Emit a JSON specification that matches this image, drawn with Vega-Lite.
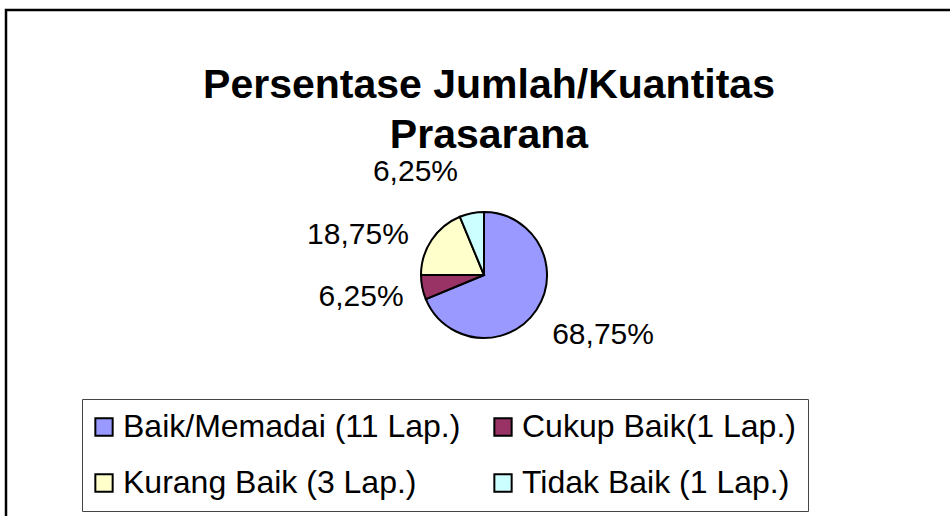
{
  "$schema": "https://vega.github.io/schema/vega-lite/v6.json",
  "autosize": "none",
  "width": 956,
  "height": 530,
  "padding": {"left": 6, "top": 10, "right": 0, "bottom": 0},
  "background": "white",
  "view": {"stroke": "black", "strokeWidth": 2.5},
  "config": {
    "font": "Liberation Sans"
  },
  "title": {
    "text": ["Persentase Jumlah/Kuantitas", "Prasarana"],
    "font": "Liberation Sans",
    "fontSize": 41,
    "fontWeight": "bold",
    "color": "black",
    "anchor": "middle",
    "lineHeight": 50,
    "offset": -147,
    "dx": 5
  },
  "data": {
    "values": [
      {"kategori": "Baik/Memadai (11 Lap.)", "jumlah": 11, "persen": "68,75%"},
      {"kategori": "Cukup Baik(1 Lap.)", "jumlah": 1, "persen": "6,25%"},
      {"kategori": "Kurang Baik (3 Lap.)", "jumlah": 3, "persen": "18,75%"},
      {"kategori": "Tidak Baik (1 Lap.)", "jumlah": 1, "persen": "6,25%"}
    ]
  },
  "resolve": {"scale": {"color": "independent"}},
  "layer": [
    {
      "mark": {"type": "arc", "outerRadius": 63, "stroke": "black", "strokeWidth": 2},
      "encoding": {
        "theta": {"field": "jumlah", "type": "quantitative", "stack": true},
        "color": {
          "field": "kategori",
          "type": "nominal",
          "scale": {
            "domain": ["Baik/Memadai (11 Lap.)", "Cukup Baik(1 Lap.)", "Kurang Baik (3 Lap.)", "Tidak Baik (1 Lap.)"],
            "range": ["#9999FF", "#993366", "#FFFFCC", "#CCFFFF"]
          },
          "legend": {
            "title": null,
            "orient": "none",
            "legendX": 76,
            "legendY": 389,
            "direction": "horizontal",
            "columns": 2,
            "gridAlign": "each",
            "symbolType": "square",
            "symbolSize": 300,
            "symbolStrokeColor": "black",
            "symbolStrokeWidth": 2,
            "symbolOpacity": 1,
            "symbolOffset": -6,
            "labelFont": "Liberation Sans",
            "labelFontSize": 32,
            "labelColor": "black",
            "labelLimit": 800,
            "labelOffset": 3,
            "labelExpr": "indexof(datum.label, 'Cukup') == 0 ? datum.label + '\u00a0\u00a0\u00a0\u00a0\u00a0\u00a0\u00a0\u00a0' : datum.label",
            "columnPadding": 29,
            "rowPadding": 24,
            "padding": 12,
            "strokeColor": "#444444"
          }
        }
      }
    },
    {
      "mark": {"type": "text", "radius": 82, "font": "Liberation Sans", "fontSize": 30, "align": "left", "baseline": "middle", "dx": 0, "dy": 14},
      "encoding": {
        "theta": {"field": "jumlah", "type": "quantitative", "stack": true},
        "color": {"field": "kategori", "type": "nominal", "scale": {"range": ["black"]}, "legend": null},
        "text": {"condition": {"test": "datum.kategori == 'Baik/Memadai (11 Lap.)'", "field": "persen"}, "value": ""}
      }
    },
    {
      "mark": {"type": "text", "radius": 82, "font": "Liberation Sans", "fontSize": 30, "align": "right", "baseline": "middle", "dx": 0, "dy": 6},
      "encoding": {
        "theta": {"field": "jumlah", "type": "quantitative", "stack": true},
        "color": {"field": "kategori", "type": "nominal", "scale": {"range": ["black"]}, "legend": null},
        "text": {"condition": {"test": "datum.kategori == 'Cukup Baik(1 Lap.)'", "field": "persen"}, "value": ""}
      }
    },
    {
      "mark": {"type": "text", "radius": 82, "font": "Liberation Sans", "fontSize": 30, "align": "right", "baseline": "middle", "dx": -7, "dy": 6},
      "encoding": {
        "theta": {"field": "jumlah", "type": "quantitative", "stack": true},
        "color": {"field": "kategori", "type": "nominal", "scale": {"range": ["black"]}, "legend": null},
        "text": {"condition": {"test": "datum.kategori == 'Kurang Baik (3 Lap.)'", "field": "persen"}, "value": ""}
      }
    },
    {
      "mark": {"type": "text", "radius": 82, "font": "Liberation Sans", "fontSize": 30, "align": "right", "baseline": "middle", "dx": -10, "dy": -23},
      "encoding": {
        "theta": {"field": "jumlah", "type": "quantitative", "stack": true},
        "color": {"field": "kategori", "type": "nominal", "scale": {"range": ["black"]}, "legend": null},
        "text": {"condition": {"test": "datum.kategori == 'Tidak Baik (1 Lap.)'", "field": "persen"}, "value": ""}
      }
    }
  ]
}
